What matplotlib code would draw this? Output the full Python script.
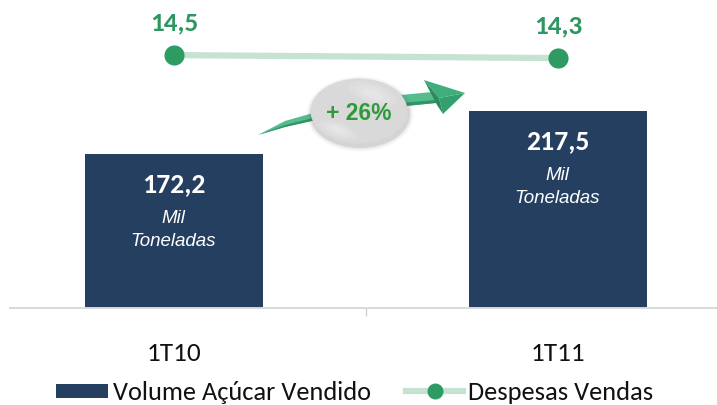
import matplotlib
matplotlib.use('Agg')
import matplotlib.pyplot as plt
from matplotlib.patches import Ellipse, Polygon, Rectangle

# Data
categories = ['1T10', '1T11']
volume = [172.2, 217.5]
despesas = [14.5, 14.3]
volume_labels = ['172,2', '217,5']
despesas_labels = ['14,5', '14,3']

navy = '#253F60'
green = '#2E9B62'
light_green = '#C5E3D0'
text_green = '#2E9660'
arial = ['Liberation Sans', 'DejaVu Sans']

plt.rcParams['font.family'] = ['Carlito', 'Lato', 'DejaVu Sans']

W, H = 717, 406
fig = plt.figure(figsize=(W / 100, H / 100), dpi=100)

# Main axes: bottom edge sits on the axis line, top edge on the top of the picture
ax = fig.add_axes([10 / W, (H - 308.5) / H, 707 / W, 308.5 / H])
ax.set_xlim(-0.427, 1.414)
ax.set_ylim(8, 337)
for side in ['top', 'left', 'right']:
    ax.spines[side].set_visible(False)
ax.spines['bottom'].set_color('#D9D9D9')
ax.spines['bottom'].set_linewidth(1.4)
ax.set_yticks([])

# Category labels and the separator tick
x_pos = [0, 1]
ax.set_xticks(x_pos)
ax.set_xticklabels(categories, fontsize=19.5, color='#111111')
ax.tick_params(axis='x', which='major', length=0, pad=24)
ax.set_xticks([0.5], minor=True)
ax.tick_params(axis='x', which='minor', length=5.8, width=1, color='#D0D0D0')

# Bars
ax.bar(x_pos, volume, width=0.4635, color=navy, zorder=2)
for x, v, lab in zip(x_pos, volume, volume_labels):
    ax.annotate(lab, (x, v), xytext=(0, -21), textcoords='offset points', color='white',
                fontsize=20, fontweight='bold', ha='center', va='center')
    ax.annotate('Mil', (x, v), xytext=(-0.5, -46), textcoords='offset points', color='white',
                fontsize=13.5, style='italic', family=arial, ha='center', va='center')
    ax.annotate('Toneladas', (x, v), xytext=(-0.5, -62.5), textcoords='offset points', color='white',
                fontsize=13.5, style='italic', family=arial, ha='center', va='center')

# Line series on its own scale
ax2 = ax.twinx()
ax2.set_ylim(-2.33, 18.24)
ax2.axis('off')
ax2.plot(x_pos, despesas, color=light_green, lw=4.5, zorder=2)
ax2.plot(x_pos, despesas, 'o', color=green, ms=14.5, mew=0, zorder=3)
for x, d, lab in zip(x_pos, despesas, despesas_labels):
    ax2.annotate(lab, (x, d), xytext=(0, 24), textcoords='offset points', color=text_green,
                 fontsize=19.5, fontweight='bold', ha='center', va='center')

# Overlay in picture pixels for the arrow, the badge and the legend
over = fig.add_axes([0, 0, 1, 1])
over.set_xlim(0, W)
over.set_ylim(H, 0)
over.axis('off')
over.patch.set_alpha(0)

# Arrow shaft, then its highlight and dark edge
shaft = [(258, 136), (285, 122), (320, 112), (370, 99), (432, 93), (436, 104), (375, 110), (325, 119), (285, 128)]
over.add_patch(Polygon(shaft, closed=True, color='#55BC8E', lw=0, zorder=4))
shade = [(258, 136), (285, 126), (325, 116), (375, 106), (436, 101), (436, 104), (375, 110), (325, 119), (285, 128)]
over.add_patch(Polygon(shade, closed=True, color='#2F9566', lw=0, zorder=4))
over.add_patch(Polygon([(424, 81), (465, 94), (439, 99)], closed=True, color='#3FAE7C', lw=0, zorder=5))
over.add_patch(Polygon([(439, 99), (465, 94), (443, 115)], closed=True, color='#35A06E', lw=0, zorder=5))
over.add_patch(Polygon([(424, 81), (439, 99), (443, 115), (437, 106)], closed=True, color='#2A8A5C', lw=0, zorder=5))

# Badge with a soft shadow
for grow, alpha in zip([10, 6, 3], [0.05, 0.08, 0.14]):
    over.add_patch(Ellipse((360, 115), 97 + grow, 65 + grow, color='#555555', alpha=alpha, lw=0, zorder=6))
over.add_patch(Ellipse((359, 112), 97, 65, color='#D9D9D9', lw=0, zorder=7))
for grow, alpha in zip([50, 36, 22], [0.12, 0.14, 0.16]):
    over.add_patch(Ellipse((373, 95), grow, grow * 0.4, angle=20, color='white', alpha=alpha, lw=0, zorder=7))
    over.add_patch(Ellipse((338, 131), grow * 0.8, grow * 0.3, angle=20, color='white', alpha=alpha, lw=0, zorder=7))
over.text(359, 113, '+ 26%', color='#2F9A3A', fontsize=16.5, fontweight='bold', family=arial,
          ha='center', va='center', zorder=8)

# Legend
over.add_patch(Rectangle((56, 385), 52, 14, color=navy, lw=0))
over.text(113, 393, 'Volume Açúcar Vendido', color='#111111', fontsize=19, ha='left', va='center')
over.plot([406, 463], [392, 392], color=light_green, lw=4.5)
over.plot([435], [392], 'o', color=green, ms=11.5, mew=0)
over.text(468, 393, 'Despesas Vendas', color='#111111', fontsize=19, ha='left', va='center')

fig.savefig('out.png', dpi=100)
